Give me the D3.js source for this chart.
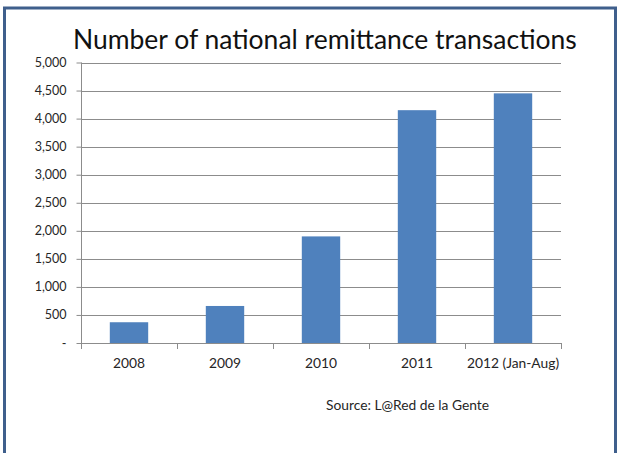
<!DOCTYPE html>
<html>
<head>
<meta charset="utf-8">
<script src="https://cdn.jsdelivr.net/npm/d3@7"></script>
<style>
  html, body { margin: 0; padding: 0; background: #fff; }
  svg { display: block; }
</style>
</head>
<body>
<svg id="chart" width="621" height="453"></svg>
<script>
// Yearly counts of national remittance transactions
const categories = ["2008", "2009", "2010", "2011", "2012 (Jan-Aug)"];
const transactions = [370, 660, 1900, 4150, 4450];
const yTicks = [0, 500, 1000, 1500, 2000, 2500, 3000, 3500, 4000, 4500, 5000];

const FONT = "Lato, 'Open Sans', sans-serif";
const svg = d3.select("#chart");
const W = 621, H = 453;
const m = { left: 81, right: 60, top: 62.5, bottom: 110 };

// Frame around the chart area
svg.append("rect")
  .attr("x", 4.5).attr("y", 8).attr("width", 611).attr("height", H + 10)
  .attr("fill", "#fff").attr("stroke", "#3f5f8c").attr("stroke-width", 3);

const x = d3.scaleBand()
  .domain(categories)
  .range([m.left, W - m.right])
  .paddingInner(0.6).paddingOuter(0.3);

const y = d3.scaleLinear()
  .domain([0, 5000])
  .range([H - m.bottom, m.top]);

// Horizontal gridlines
svg.append("g")
  .selectAll("line")
  .data(yTicks.filter(d => d > 0))
  .join("line")
  .attr("x1", m.left).attr("x2", W - m.right)
  .attr("y1", d => Math.round(y(d)) + 0.5).attr("y2", d => Math.round(y(d)) + 0.5)
  .attr("stroke", "#8c8c8c").attr("stroke-width", 1);

// Bars
svg.append("g")
  .selectAll("rect")
  .data(categories.map((c, i) => ({ c, v: transactions[i] })))
  .join("rect")
  .attr("x", d => x(d.c))
  .attr("width", x.bandwidth())
  .attr("y", d => y(d.v))
  .attr("height", d => y(0) - y(d.v))
  .attr("fill", "#4f81bd");

// Y axis
const yAxis = d3.axisLeft(y)
  .tickValues(yTicks)
  .tickSize(5)
  .tickPadding(10)
  .tickFormat(d => d === 0 ? "-" : d3.format(",")(d));

const gy = svg.append("g")
  .attr("transform", `translate(${m.left + 0.5},0)`)
  .call(yAxis);
gy.select(".domain").attr("stroke", "#8c8c8c").attr("d", `M0,${y(5000)}V${y(0)}`);
gy.selectAll(".tick line").attr("stroke", "#8c8c8c");
gy.selectAll(".tick text")
  .attr("font-family", FONT).attr("font-size", 12.5).attr("fill", "#262626");

// X axis with tick marks at the category boundaries
const bounds = categories.map(c => x(c) - x.step() * x.paddingInner() / 2);
bounds.push(x(categories[categories.length - 1]) + x.bandwidth() + x.step() * x.paddingInner() / 2);

const gx = svg.append("g");
gx.append("line")
  .attr("x1", m.left).attr("x2", W - m.right)
  .attr("y1", Math.round(y(0)) + 0.5).attr("y2", Math.round(y(0)) + 0.5)
  .attr("stroke", "#8c8c8c");
gx.selectAll("line.t")
  .data(bounds)
  .join("line")
  .attr("class", "t")
  .attr("x1", d => Math.round(d) + 0.5).attr("x2", d => Math.round(d) + 0.5)
  .attr("y1", Math.round(y(0))).attr("y2", Math.round(y(0)) + 6)
  .attr("stroke", "#8c8c8c");
gx.selectAll("text")
  .data(categories)
  .join("text")
  .attr("x", d => x(d) + x.bandwidth() / 2)
  .attr("y", y(0) + 25)
  .attr("text-anchor", "middle")
  .attr("font-family", FONT).attr("font-size", 13.8).attr("fill", "#262626")
  .text(d => d);

// Title, sized to span the plot width
const title = svg.append("text")
  .attr("x", 73).attr("y", 48.5)
  .attr("font-family", FONT).attr("font-size", 25).attr("fill", "#111")
  .text("Number of national remittance transactions");
const tw = title.node().getComputedTextLength();
title.attr("font-size", 25 * 504 / tw);

// Source note
svg.append("text")
  .attr("x", 326).attr("y", 410)
  .attr("font-family", FONT).attr("font-size", 13.8).attr("fill", "#262626")
  .text("Source: L@Red de la Gente");
</script>
</body>
</html>
